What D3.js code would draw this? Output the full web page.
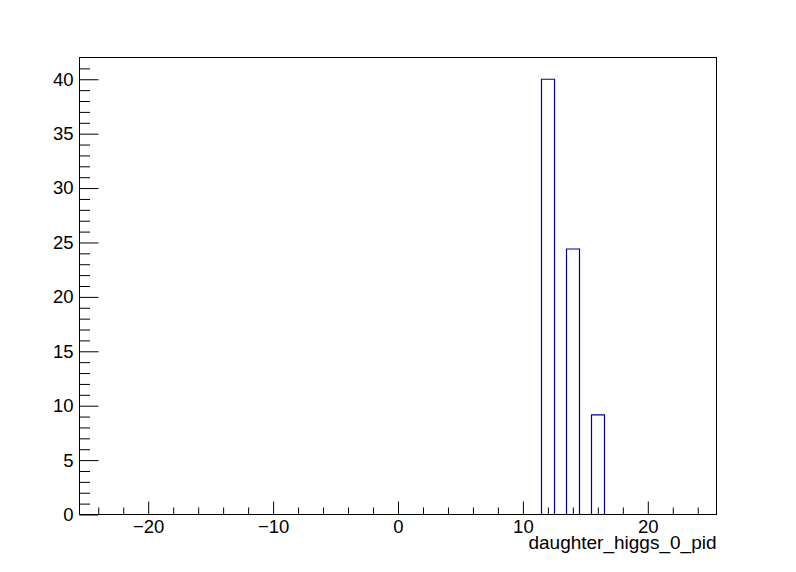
<!DOCTYPE html>
<html>
<head>
<meta charset="utf-8">
<script src="https://cdn.jsdelivr.net/npm/d3@7"></script>
<style>
  html, body { margin: 0; padding: 0; background: #ffffff; }
  svg { display: block; }
  text { font-family: "Liberation Sans", Arial, Helvetica, sans-serif; }
</style>
</head>
<body>
<svg id="chart" width="796" height="572"></svg>
<script>
// ---- data ----
const binCenters = [12, 14, 16];
const binCounts = [40, 24.4, 9.15];
const binWidth = 1;
const xRange = [-25.5, 25.5];
const yRange = [0, 42];
const xMajorTicks = [-20, -10, 0, 10, 20];
const yMajorTicks = [0, 5, 10, 15, 20, 25, 30, 35, 40];
const xTitle = "daughter_higgs_0_pid";

(function () {
// ---- layout ----
const pLeft = 79.5, pRight = 716.5, pTop = 57.5, pBottom = 514.5;
const svg = d3.select("#chart");
svg.append("rect").attr("width", 796).attr("height", 572).attr("fill", "#fff");

const x = d3.scaleLinear().domain(xRange).range([pLeft, pRight]);
const y = d3.scaleLinear().domain(yRange).range([pBottom, pTop]);

// ---- histogram outline ----
const histColor = "#0000a0";
const edges = d3.range(xRange[0], xRange[1] + 0.001, binWidth);
const counts = edges.slice(0, -1).map(e => {
  const c = e + binWidth / 2;
  const i = binCenters.findIndex(b => Math.abs(b - c) < 1e-6);
  return i >= 0 ? binCounts[i] : 0;
});
let pts = [[x(edges[0]), y(0)]];
counts.forEach((v, i) => {
  pts.push([x(edges[i]), y(v)]);
  pts.push([x(edges[i + 1]), y(v)]);
});
pts.push([x(edges[edges.length - 1]), y(0)]);
svg.append("path")
  .attr("d", d3.line()(pts.map(p => [Math.round(p[0] - 0.5) + 0.5, p[1]])))
  .attr("fill", "none")
  .attr("stroke", histColor)
  .attr("stroke-width", 1.2);

// ---- axes ----
const fs = "18.5px";
const yMinor = d3.range(0, 42, 1).filter(v => v % 5 !== 0);
svg.append("g").attr("transform", `translate(${pLeft},0)`)
  .call(d3.axisLeft(y).tickValues(yMinor).tickSize(-10.5).tickFormat(""))
  .call(g => g.select(".domain").remove())
  .call(g => g.selectAll("line").attr("stroke", "#000"));
svg.append("g").attr("transform", `translate(${pLeft},0)`)
  .call(d3.axisLeft(y).tickValues(yMajorTicks).tickSize(-19).tickPadding(6).tickFormat(d3.format("d")))
  .call(g => g.select(".domain").remove())
  .call(g => g.selectAll("line").attr("stroke", "#000"))
  .call(g => g.selectAll("text").attr("fill", "#000").style("font-size", fs)
    .attr("font-family", "Liberation Sans, Arial, sans-serif"));

const xMinor = d3.range(-24, 25, 2).filter(v => v % 10 !== 0);
svg.append("g").attr("transform", `translate(0,${pBottom})`)
  .call(d3.axisBottom(x).tickValues(xMinor).tickSize(-7).tickFormat(""))
  .call(g => g.select(".domain").remove())
  .call(g => g.selectAll("line").attr("stroke", "#000"));
svg.append("g").attr("transform", `translate(0,${pBottom})`)
  .call(d3.axisBottom(x).tickValues(xMajorTicks).tickSize(-13).tickPadding(5))
  .call(g => g.select(".domain").remove())
  .call(g => g.selectAll("line").attr("stroke", "#000"))
  .call(g => g.selectAll("text").attr("fill", "#000").style("font-size", fs)
    .attr("font-family", "Liberation Sans, Arial, sans-serif"));

// frame
svg.append("rect")
  .attr("x", pLeft).attr("y", pTop)
  .attr("width", pRight - pLeft).attr("height", pBottom - pTop)
  .attr("fill", "none").attr("stroke", "#000").attr("stroke-width", 1);

// axis title
svg.append("text")
  .attr("x", pRight).attr("y", 549)
  .attr("text-anchor", "end")
  .style("font-size", "19px")
  .attr("fill", "#000")
  .text(xTitle);
})();
</script>
</body>
</html>
